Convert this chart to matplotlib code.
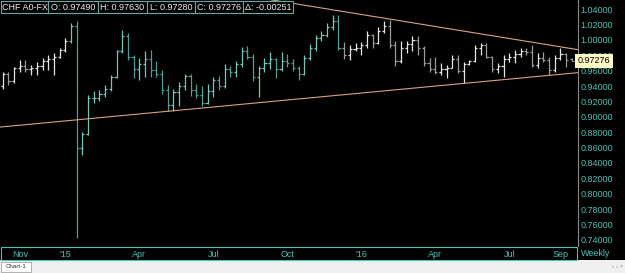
import matplotlib
matplotlib.use("Agg")
import matplotlib.pyplot as plt
import matplotlib.patches as patches
import matplotlib.transforms as mtransforms
import numpy as np
import pandas as pd

plt.rcParams['font.family'] = ['Liberation Sans', 'DejaVu Sans']

# weekly CHF bars (one per week, dated on the Friday)
week_dates = pd.date_range("2014-10-17", periods=101, freq="W-FRI")

opens = [0.940, 0.955, 0.947, 0.963, 0.966, 0.962, 0.964, 0.966, 0.972, 0.975,
         0.978, 0.987, 0.998, 1.018, 0.859, 0.878, 0.925, 0.925, 0.929, 0.936,
         0.952, 0.985, 1.005, 0.978, 0.962, 0.968, 0.975, 0.961, 0.955, 0.935,
         0.915, 0.932, 0.940, 0.953, 0.935, 0.928, 0.918, 0.934, 0.948, 0.940,
         0.962, 0.958, 0.968, 0.985, 0.978, 0.952, 0.963, 0.970, 0.975, 0.962,
         0.973, 0.970, 0.963, 0.955, 0.976, 0.990, 1.002, 1.006, 1.016, 1.025,
         0.990, 0.980, 0.988, 0.990, 0.993, 1.006, 0.996, 1.012, 1.018, 0.993,
         0.972, 0.990, 0.994, 1.000, 0.990, 0.970, 0.962, 0.958, 0.962, 0.964,
         0.975, 0.960, 0.969, 0.972, 0.990, 0.993, 0.978, 0.962, 0.966, 0.975,
         0.978, 0.982, 0.986, 0.984, 0.967, 0.977, 0.974, 0.961, 0.976, 0.982,
         0.9749]
highs = [0.958, 0.958, 0.965, 0.974, 0.974, 0.967, 0.971, 0.976, 0.980, 0.983,
         0.989, 1.002, 1.022, 1.024, 0.880, 0.928, 0.934, 0.935, 0.941, 0.954,
         0.987, 1.013, 1.009, 0.980, 0.976, 0.985, 0.987, 0.973, 0.961, 0.941,
         0.936, 0.945, 0.956, 0.956, 0.943, 0.940, 0.943, 0.952, 0.953, 0.969,
         0.966, 0.973, 0.991, 0.992, 0.982, 0.966, 0.977, 0.984, 0.977, 0.984,
         0.982, 0.975, 0.966, 0.980, 0.995, 1.006, 1.011, 1.022, 1.032, 1.032,
         0.997, 0.993, 0.996, 0.997, 1.011, 1.008, 1.017, 1.024, 1.026, 0.998,
         0.998, 0.999, 1.005, 1.005, 0.992, 0.977, 0.978, 0.970, 0.967, 0.980,
         0.980, 0.971, 0.974, 0.993, 0.996, 0.996, 0.979, 0.970, 0.980, 0.983,
         0.987, 0.989, 0.989, 0.993, 0.983, 0.984, 0.978, 0.980, 0.989, 0.983,
         0.9763]
lows = [0.936, 0.941, 0.944, 0.958, 0.958, 0.954, 0.954, 0.961, 0.961, 0.954,
        0.977, 0.984, 0.996, 0.743, 0.850, 0.877, 0.918, 0.920, 0.926, 0.933,
        0.950, 0.983, 0.974, 0.950, 0.948, 0.952, 0.952, 0.952, 0.929, 0.908,
        0.908, 0.914, 0.935, 0.927, 0.924, 0.914, 0.916, 0.926, 0.935, 0.938,
        0.952, 0.952, 0.965, 0.975, 0.947, 0.926, 0.958, 0.962, 0.951, 0.960,
        0.965, 0.959, 0.948, 0.954, 0.974, 0.985, 0.999, 1.003, 1.013, 0.987,
        0.975, 0.974, 0.985, 0.980, 0.990, 0.989, 0.994, 1.009, 0.990, 0.966,
        0.970, 0.983, 0.985, 0.980, 0.966, 0.958, 0.955, 0.954, 0.950, 0.963,
        0.957, 0.944, 0.967, 0.971, 0.980, 0.976, 0.958, 0.957, 0.952, 0.971,
        0.970, 0.978, 0.980, 0.965, 0.963, 0.971, 0.954, 0.958, 0.974, 0.965,
        0.9728]
closes = [0.955, 0.947, 0.963, 0.966, 0.962, 0.964, 0.966, 0.972, 0.975, 0.978,
          0.987, 0.998, 1.018, 0.859, 0.878, 0.925, 0.925, 0.929, 0.936, 0.952,
          0.985, 1.005, 0.978, 0.962, 0.968, 0.975, 0.961, 0.955, 0.935, 0.915,
          0.932, 0.940, 0.953, 0.935, 0.928, 0.918, 0.934, 0.948, 0.940, 0.962,
          0.958, 0.968, 0.985, 0.978, 0.952, 0.963, 0.970, 0.975, 0.962, 0.973,
          0.970, 0.963, 0.955, 0.976, 0.990, 1.002, 1.006, 1.016, 1.025, 0.990,
          0.980, 0.988, 0.990, 0.993, 1.006, 0.996, 1.012, 1.018, 0.993, 0.972,
          0.990, 0.994, 1.000, 0.990, 0.970, 0.962, 0.958, 0.962, 0.964, 0.975,
          0.960, 0.969, 0.972, 0.990, 0.993, 0.978, 0.962, 0.966, 0.975, 0.978,
          0.982, 0.986, 0.984, 0.967, 0.977, 0.974, 0.961, 0.976, 0.982, 0.974,
          0.97276]

header_cells = ["CHF A0-FX", "O: 0.97490", "H: 0.97630", "L: 0.97280",
                "C: 0.97276", "\u0394: -0.00251"]
last_price = 0.97276

month_ticks = pd.to_datetime(["2014-11-07", "2015-01-02", "2015-04-03", "2015-07-03",
                              "2015-10-02", "2016-01-01", "2016-04-01", "2016-07-01",
                              "2016-09-02"])
month_labels = ["Nov", "'15", "Apr", "Jul", "Oct", "'16", "Apr", "Jul", "Sep"]

# hand drawn trend lines (date, price)
upper_line = (pd.to_datetime(["2015-09-06", "2016-09-23"]), [1.0530, 0.9873])
lower_line = (pd.to_datetime(["2014-10-13", "2016-09-23"]), [0.8866, 0.9573])

# ---- layout in pixels ----
W, H = 625, 273
def fx(x):
    return x / W
def fy(y):
    return 1 - y / H

TEAL = "#45c3b8"
fig = plt.figure(figsize=(W / 100, H / 100), dpi=100, facecolor="#f0f0f0")
fig.add_artist(patches.Rectangle((0, fy(260)), 1, 260 / H, transform=fig.transFigure,
                                 fc="black", ec="none", zorder=0))

ax = fig.add_axes([0, fy(246), fx(577.5), 246 / H])
ax.set_facecolor("black")

hl_start, hl_end = pd.Timestamp("2015-01-09"), pd.Timestamp("2015-12-04")
cols = []
for d, o, c in zip(week_dates, opens, closes):
    in_hl = hl_start <= d <= hl_end
    if in_hl:
        cols.append("#74c8bb" if c >= o else "#4f9e96")
    else:
        cols.append("#e4e4e4" if c >= o else "#9c9c9c")

tick = pd.Timedelta(days=2.6)
ax.vlines(week_dates, lows, highs, colors=cols, lw=0.9)
ax.hlines(opens, week_dates - tick, week_dates, colors=cols, lw=0.9)
ax.hlines(closes, week_dates, week_dates + tick, colors=cols, lw=0.9)

ax.plot(upper_line[0], upper_line[1], color="#d9a183", lw=0.8)
ax.plot(lower_line[0], lower_line[1], color="#d9a183", lw=0.8)

ax.set_xlim(pd.Timestamp("2014-10-13 16:00"), pd.Timestamp("2016-09-23"))
ax.set_ylim(0.7322, 1.0517)

ax.yaxis.tick_right()
yt = np.arange(0.74, 1.041, 0.02)
ax.set_yticks(yt)
ax.set_yticklabels(["%.5f" % v for v in yt])
ax.tick_params(axis="y", length=0, pad=2.3, labelsize=6.5, labelcolor=TEAL)
ax.set_xticks(month_ticks)
ax.set_xticklabels(month_labels)
ax.tick_params(axis="x", length=0, pad=3.0, labelsize=6.5, labelcolor=TEAL)
for s in ["left", "top", "bottom"]:
    ax.spines[s].set_visible(False)
ax.spines["right"].set_color("#8a8a8a")
ax.spines["right"].set_linewidth(0.8)

# last price flag
trans = mtransforms.blended_transform_factory(ax.transAxes, ax.transData)
ax.text(1.0, last_price, "%.5f" % last_price, transform=trans, ha="left", va="center",
        fontsize=6.5, color="black", zorder=10, clip_on=False,
        bbox=dict(boxstyle="square,pad=0.3", fc="#fdf8c4", ec="none"))

# header cells
edges = [0.7, 48.3, 98.3, 146.7, 195, 243.3, 293.3]
for i, txt in enumerate(header_cells):
    x0, x1 = edges[i], edges[i + 1]
    fig.add_artist(patches.Rectangle((fx(x0), fy(12.7)), fx(x1 - x0), 12 / H,
                                     transform=fig.transFigure, fc="black",
                                     ec="#5fa8a3", lw=0.8, zorder=5))
    fig.text(fx((x0 + x1) / 2), fy(7), txt, ha="center", va="center",
             fontsize=6.5, color="#ececec", zorder=6)

# x axis band, weekly label, bottom tab strip
fig.add_artist(patches.Rectangle((fx(0.7), fy(259.5)), fx(576.5), 13 / H,
                                 transform=fig.transFigure, fc="none", ec=TEAL,
                                 lw=0.8, zorder=5))
fig.text(fx(581), fy(253.5), "Weekly", ha="left", va="center", fontsize=6.5, color=TEAL)
fig.add_artist(patches.Rectangle((fx(1), fy(272)), fx(30), 10 / H,
                                 transform=fig.transFigure, fc="white", ec="#a8a8a8",
                                 lw=0.6, zorder=5))
fig.text(fx(16), fy(267), "Chart-1", ha="center", va="center", fontsize=4.5,
         color="#333333", zorder=6)
fig.text(fx(618), fy(267), "\u2039 \u203a \u00d7", ha="center", va="center",
         fontsize=4.5, color="#888888")

fig.savefig("out.png", dpi=100, facecolor=fig.get_facecolor())
